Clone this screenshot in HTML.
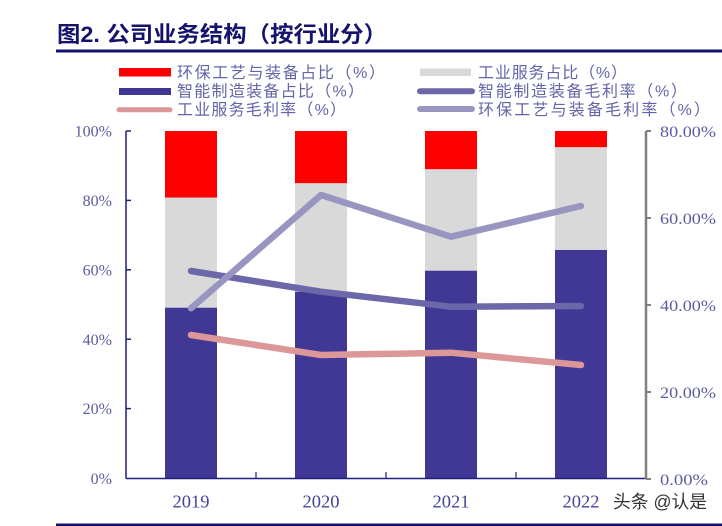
<!DOCTYPE html>
<html>
<head>
<meta charset="utf-8">
<style>
html,body{margin:0;padding:0;background:#fff;}
svg{display:block;}
.cjk{font-family:"Liberation Sans","Noto Sans CJK SC",sans-serif;}
.ser{font-family:"Liberation Serif","Noto Serif CJK SC",serif;}
</style>
</head>
<body>
<svg width="722" height="526" viewBox="0 0 722 526" xmlns="http://www.w3.org/2000/svg">
  <rect x="0" y="0" width="722" height="526" fill="#fff"/>

  <!-- Title -->
  <text x="57" y="42" class="cjk" font-size="22" font-weight="bold" fill="#15136b" textLength="330" lengthAdjust="spacingAndGlyphs">图2. 公司业务结构（按行业分）</text>
  <rect x="56" y="49.5" width="666" height="3" fill="#13106e"/>

  <!-- Legend col 1 -->
  <rect x="119" y="68" width="52" height="8.5" fill="#ff0000"/>
  <text x="177" y="78" class="cjk" font-size="16" fill="#6464a8" textLength="208" lengthAdjust="spacing">环保工艺与装备占比（%）</text>
  <rect x="119" y="88" width="52" height="7" fill="#3f3694"/>
  <text x="177" y="96.5" class="cjk" font-size="16" fill="#6464a8" textLength="187" lengthAdjust="spacing">智能制造装备占比（%）</text>
  <line x1="119" y1="109.7" x2="170" y2="109.7" stroke="#dc9898" stroke-width="5" stroke-linecap="round"/>
  <text x="177" y="115" class="cjk" font-size="16" fill="#6464a8" textLength="169" lengthAdjust="spacing">工业服务毛利率（%）</text>

  <!-- Legend col 2 -->
  <rect x="420" y="68.5" width="51" height="7.5" fill="#d9d9d9"/>
  <text x="478" y="78" class="cjk" font-size="16" fill="#6464a8" textLength="149" lengthAdjust="spacing">工业服务占比（%）</text>
  <line x1="420" y1="91.3" x2="472" y2="91.3" stroke="#6b67a8" stroke-width="6" stroke-linecap="round"/>
  <text x="478" y="96.5" class="cjk" font-size="16" fill="#6464a8" textLength="209" lengthAdjust="spacing">智能制造装备毛利率（%）</text>
  <line x1="420" y1="109" x2="472" y2="109" stroke="#9896c0" stroke-width="6" stroke-linecap="round"/>
  <text x="478" y="115" class="cjk" font-size="16" fill="#6464a8" textLength="232" lengthAdjust="spacing">环保工艺与装备毛利率（%）</text>

  <!-- Bars -->
  <rect x="165" y="131" width="52" height="66.7" fill="#ff0000"/>
  <rect x="165" y="197.7" width="52" height="110" fill="#d9d9d9"/>
  <rect x="165" y="307.7" width="52" height="170.8" fill="#413795"/>
  <rect x="295" y="131" width="52" height="52.3" fill="#ff0000"/>
  <rect x="295" y="183.3" width="52" height="108.4" fill="#d9d9d9"/>
  <rect x="295" y="291.7" width="52" height="186.8" fill="#413795"/>
  <rect x="425" y="131" width="52" height="38.3" fill="#ff0000"/>
  <rect x="425" y="169.3" width="52" height="101.4" fill="#d9d9d9"/>
  <rect x="425" y="270.7" width="52" height="207.8" fill="#413795"/>
  <rect x="555" y="131" width="52" height="16.3" fill="#ff0000"/>
  <rect x="555" y="147.3" width="52" height="102.7" fill="#d9d9d9"/>
  <rect x="555" y="250" width="52" height="228.5" fill="#413795"/>

  <!-- Lines -->
  <polyline points="191,335 321,355 451,352.7 581,365" fill="none" stroke="#dc9898" stroke-width="6.5" stroke-linecap="round" stroke-linejoin="round"/>
  <polyline points="191,271 321,291.7 451,306.7 581,306" fill="none" stroke="#6b67a8" stroke-width="6.5" stroke-linecap="round" stroke-linejoin="round"/>
  <polyline points="191,308.3 321,195 451,236.7 581,206" fill="none" stroke="#9896c0" stroke-width="6.5" stroke-linecap="round" stroke-linejoin="round"/>

  <!-- Left axis -->
  <line x1="126" y1="131" x2="126" y2="478.5" stroke="#1f1f80" stroke-width="1.5"/>
  <g stroke="#1f1f80" stroke-width="1.5">
    <line x1="126" y1="131" x2="131" y2="131"/>
    <line x1="126" y1="200.4" x2="131" y2="200.4"/>
    <line x1="126" y1="269.8" x2="131" y2="269.8"/>
    <line x1="126" y1="339.2" x2="131" y2="339.2"/>
    <line x1="126" y1="408.6" x2="131" y2="408.6"/>
  </g>
  <g class="ser" font-size="16" fill="#5b5ba0" text-anchor="end">
    <text x="112" y="136.5">100%</text>
    <text x="112" y="206">80%</text>
    <text x="112" y="275.5">60%</text>
    <text x="112" y="345">40%</text>
    <text x="112" y="414">20%</text>
    <text x="112" y="484">0%</text>
  </g>

  <!-- X axis -->
  <line x1="126" y1="478.5" x2="646" y2="478.5" stroke="#1f1f80" stroke-width="1.5"/>
  <g stroke="#1f1f80" stroke-width="1.2">
    <line x1="256" y1="472" x2="256" y2="478.5"/>
    <line x1="386" y1="472" x2="386" y2="478.5"/>
    <line x1="516" y1="472" x2="516" y2="478.5"/>
  </g>
  <g class="ser" font-size="18" fill="#44449a" text-anchor="middle">
    <text x="191" y="507.5" textLength="37" lengthAdjust="spacingAndGlyphs">2019</text>
    <text x="321" y="507.5" textLength="37" lengthAdjust="spacingAndGlyphs">2020</text>
    <text x="451" y="507.5" textLength="37" lengthAdjust="spacingAndGlyphs">2021</text>
    <text x="581" y="507.5" textLength="37" lengthAdjust="spacingAndGlyphs">2022</text>
  </g>

  <!-- Right axis -->
  <line x1="646" y1="131" x2="646" y2="479" stroke="#808080" stroke-width="2.5"/>
  <g stroke="#808080" stroke-width="2">
    <line x1="646" y1="131" x2="651" y2="131"/>
    <line x1="646" y1="218" x2="651" y2="218"/>
    <line x1="646" y1="305" x2="651" y2="305"/>
    <line x1="646" y1="392" x2="651" y2="392"/>
    <line x1="646" y1="479" x2="651" y2="479"/>
  </g>
  <g class="ser" font-size="16" fill="#5b5ba0">
    <text x="660" y="137" textLength="56" lengthAdjust="spacingAndGlyphs">80.00%</text>
    <text x="660" y="224" textLength="56" lengthAdjust="spacingAndGlyphs">60.00%</text>
    <text x="660" y="311" textLength="56" lengthAdjust="spacingAndGlyphs">40.00%</text>
    <text x="660" y="398" textLength="56" lengthAdjust="spacingAndGlyphs">20.00%</text>
    <text x="660" y="485" textLength="48" lengthAdjust="spacingAndGlyphs">0.00%</text>
  </g>

  <!-- Watermark -->
  <text x="613" y="508" class="cjk" font-size="18" fill="#333" textLength="94" lengthAdjust="spacingAndGlyphs">头条 @认是</text>

  <!-- Bottom line -->
  <rect x="56" y="523.5" width="666" height="2.5" fill="#13106e"/>
</svg>
</body>
</html>
